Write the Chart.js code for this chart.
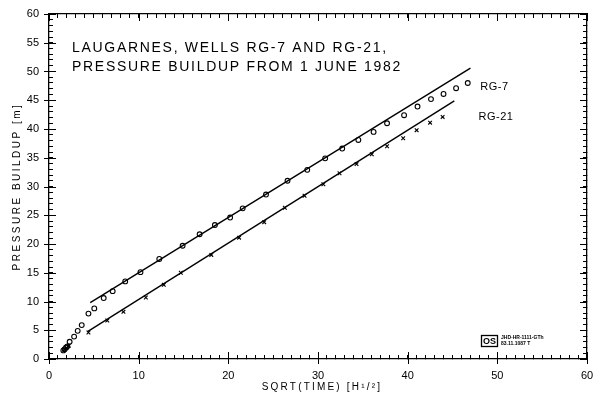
<!DOCTYPE html>
<html>
<head>
<meta charset="utf-8">
<script src="https://cdn.jsdelivr.net/npm/chart.js@4"></script>
<style>
  html, body { margin: 0; padding: 0; background: #fff; }
  canvas { display: block; }
</style>
</head>
<body>
<canvas id="c" width="596" height="397"></canvas>
<script>
// Pressure buildup, wells RG-7 and RG-21 (Laugarnes), vs. square root of time
const rg7X  = [1.6, 1.75, 1.9, 2.05, 2.3, 2.8, 3.2, 3.65, 4.4, 5.05, 6.1, 7.1, 8.5, 10.2, 12.3, 14.9, 16.8, 18.5, 20.2, 21.6, 24.2, 26.6, 28.8, 30.8, 32.7, 34.5, 36.2, 37.7, 39.6, 41.1, 42.6, 44.0, 45.4, 46.7];
const rg7Y  = [1.5, 1.7, 2.0, 2.2, 3.0, 3.9, 4.9, 5.9, 7.9, 8.8, 10.6, 11.8, 13.5, 15.1, 17.4, 19.7, 21.7, 23.3, 24.6, 26.2, 28.6, 31.0, 32.9, 34.9, 36.6, 38.1, 39.5, 41.0, 42.4, 43.9, 45.2, 46.1, 47.1, 48.0];
const rg21X = [1.7, 1.95, 2.2, 4.4, 6.5, 8.3, 10.8, 12.8, 14.7, 18.1, 21.2, 24.0, 26.3, 28.5, 30.6, 32.4, 34.3, 36.0, 37.7, 39.5, 41.0, 42.5, 43.9];
const rg21Y = [1.6, 1.9, 2.3, 4.6, 6.7, 8.2, 10.7, 12.9, 15.0, 18.1, 21.1, 23.8, 26.3, 28.4, 30.4, 32.3, 33.9, 35.6, 37.0, 38.4, 39.8, 41.1, 42.1];
// straight-line fits through the late-time data
const fitRG7X  = [4.6, 47.0];
const fitRG7Y  = [9.8, 50.6];
const fitRG21X = [4.3, 45.2];
const fitRG21Y = [4.75, 44.9];
// axis ranges, minor tick step and labelled (major) step
const xRange = [0, 60], xMajor = 10;
const yRange = [0, 60], yMajor = 5;
const minorStep = 1;
const titleLines = ['LAUGARNES, WELLS RG-7 AND RG-21,', 'PRESSURE BUILDUP FROM 1 JUNE 1982'];
const xTitle = 'SQRT(TIME) [H¹/²]';
const yTitle = 'PRESSURE BUILDUP [m]';
const seriesNames = ['RG-7', 'RG-21'];
const stampLines = ['JHD-HR-1111-GTh', '83.11.1087 T'];

const pts = (xs, ys) => xs.map((v, i) => ({ x: v, y: ys[i] }));
const INK = '#000';
const FONT = '"Liberation Sans", Arial, sans-serif';

// frame axis: border plus short inward ticks at every unit
function frameAxis(position, range, major, showLabels, size, labelPad) {
  const horizontal = position === 'top' || position === 'bottom';
  return {
    type: 'linear', position, min: range[0], max: range[1],
    grid: { display: true, drawOnChartArea: false, drawTicks: true, tickLength: -4, color: INK, lineWidth: 1 },
    border: { display: true, color: INK, width: 1.3 },
    ticks: {
      display: showLabels, stepSize: minorStep, autoSkip: false, maxRotation: 0, padding: labelPad,
      color: INK, font: { family: FONT, size: 11 },
      callback: v => (v % major === 0 ? String(v) : '')
    },
    afterFit(s) {
      if (horizontal) { s.height = size; s.paddingLeft = 0; s.paddingRight = 0; }
      else { s.width = size; s.paddingTop = 0; s.paddingBottom = 0; }
    }
  };
}

const plotterText = {
  id: 'plotterText',
  afterDraw(chart) {
    const { ctx, chartArea: a, scales: { x, y } } = chart;
    ctx.save();
    ctx.fillStyle = INK;
    ctx.strokeStyle = INK;

    // longer marks at the labelled values
    ctx.lineWidth = 1;
    ctx.beginPath();
    for (let v = xRange[0]; v <= xRange[1]; v += xMajor) {
      const px = Math.round(x.getPixelForValue(v)) + 0.5;
      ctx.moveTo(px, a.bottom + 5); ctx.lineTo(px, a.bottom - 7);
      ctx.moveTo(px, a.top); ctx.lineTo(px, a.top + 7);
    }
    for (let v = yRange[0]; v <= yRange[1]; v += yMajor) {
      const py = Math.round(y.getPixelForValue(v)) + 0.5;
      ctx.moveTo(a.left - 5, py); ctx.lineTo(a.left + 7, py);
      ctx.moveTo(a.right, py); ctx.lineTo(a.right - 7, py);
    }
    ctx.stroke();

    // title block
    ctx.font = '14px ' + FONT;
    ctx.letterSpacing = '1.7px';
    ctx.textAlign = 'left';
    ctx.textBaseline = 'alphabetic';
    ctx.fillText(titleLines[0], a.left + 23, a.top + 38);
    ctx.fillText(titleLines[1], a.left + 23, a.top + 57);

    // series labels
    ctx.font = '11px ' + FONT;
    ctx.letterSpacing = '0.5px';
    ctx.fillText(seriesNames[0], x.getPixelForValue(48.1), y.getPixelForValue(46.8));
    ctx.fillText(seriesNames[1], x.getPixelForValue(47.9), y.getPixelForValue(41.6));

    // axis titles
    ctx.font = '10px ' + FONT;
    ctx.letterSpacing = '2.2px';
    ctx.textAlign = 'center';
    ctx.textBaseline = 'middle';
    ctx.fillText(xTitle, (a.left + a.right) / 2 + 4, 387);
    ctx.save();
    ctx.translate(17, (a.top + a.bottom) / 2);
    ctx.rotate(-Math.PI / 2);
    ctx.letterSpacing = '2.5px';
    ctx.fillText(yTitle, 0, 0);
    ctx.restore();

    // drafting-office stamp
    ctx.letterSpacing = '0px';
    ctx.lineWidth = 1.3;
    ctx.strokeRect(481.5, 335.5, 16, 11);
    ctx.font = 'bold 9px ' + FONT;
    ctx.fillText('OS', 489.5, 341.5);
    ctx.font = 'bold 5px ' + FONT;
    ctx.textAlign = 'left';
    ctx.fillText(stampLines[0], 501, 338);
    ctx.fillText(stampLines[1], 501, 344);
    ctx.restore();
  }
};

new Chart(document.getElementById('c'), {
  type: 'scatter',
  data: {
    datasets: [
      { label: 'RG-7 fit', data: pts(fitRG7X, fitRG7Y), showLine: true, borderColor: INK, borderWidth: 1.4, pointRadius: 0, fill: false },
      { label: 'RG-21 fit', data: pts(fitRG21X, fitRG21Y), showLine: true, borderColor: INK, borderWidth: 1.4, pointRadius: 0, fill: false },
      { label: seriesNames[0], data: pts(rg7X, rg7Y), pointStyle: 'circle', pointRadius: 2.4, borderWidth: 1.1, borderColor: INK, backgroundColor: 'rgba(0,0,0,0)' },
      { label: seriesNames[1], data: pts(rg21X, rg21Y), pointStyle: 'crossRot', pointRadius: 2.6, borderWidth: 1.1, borderColor: INK, backgroundColor: INK }
    ]
  },
  options: {
    responsive: false,
    animation: false,
    devicePixelRatio: 1,
    layout: { padding: 0 },
    plugins: { legend: { display: false }, tooltip: { enabled: false }, title: { display: false } },
    scales: {
      x:  frameAxis('bottom', xRange, xMajor, true, 38, 14),
      x2: frameAxis('top', xRange, xMajor, false, 14, 0),
      y:  frameAxis('left', yRange, yMajor, true, 49, 14),
      y2: frameAxis('right', yRange, yMajor, false, 9, 0)
    }
  },
  plugins: [plotterText]
});
</script>
</body>
</html>
